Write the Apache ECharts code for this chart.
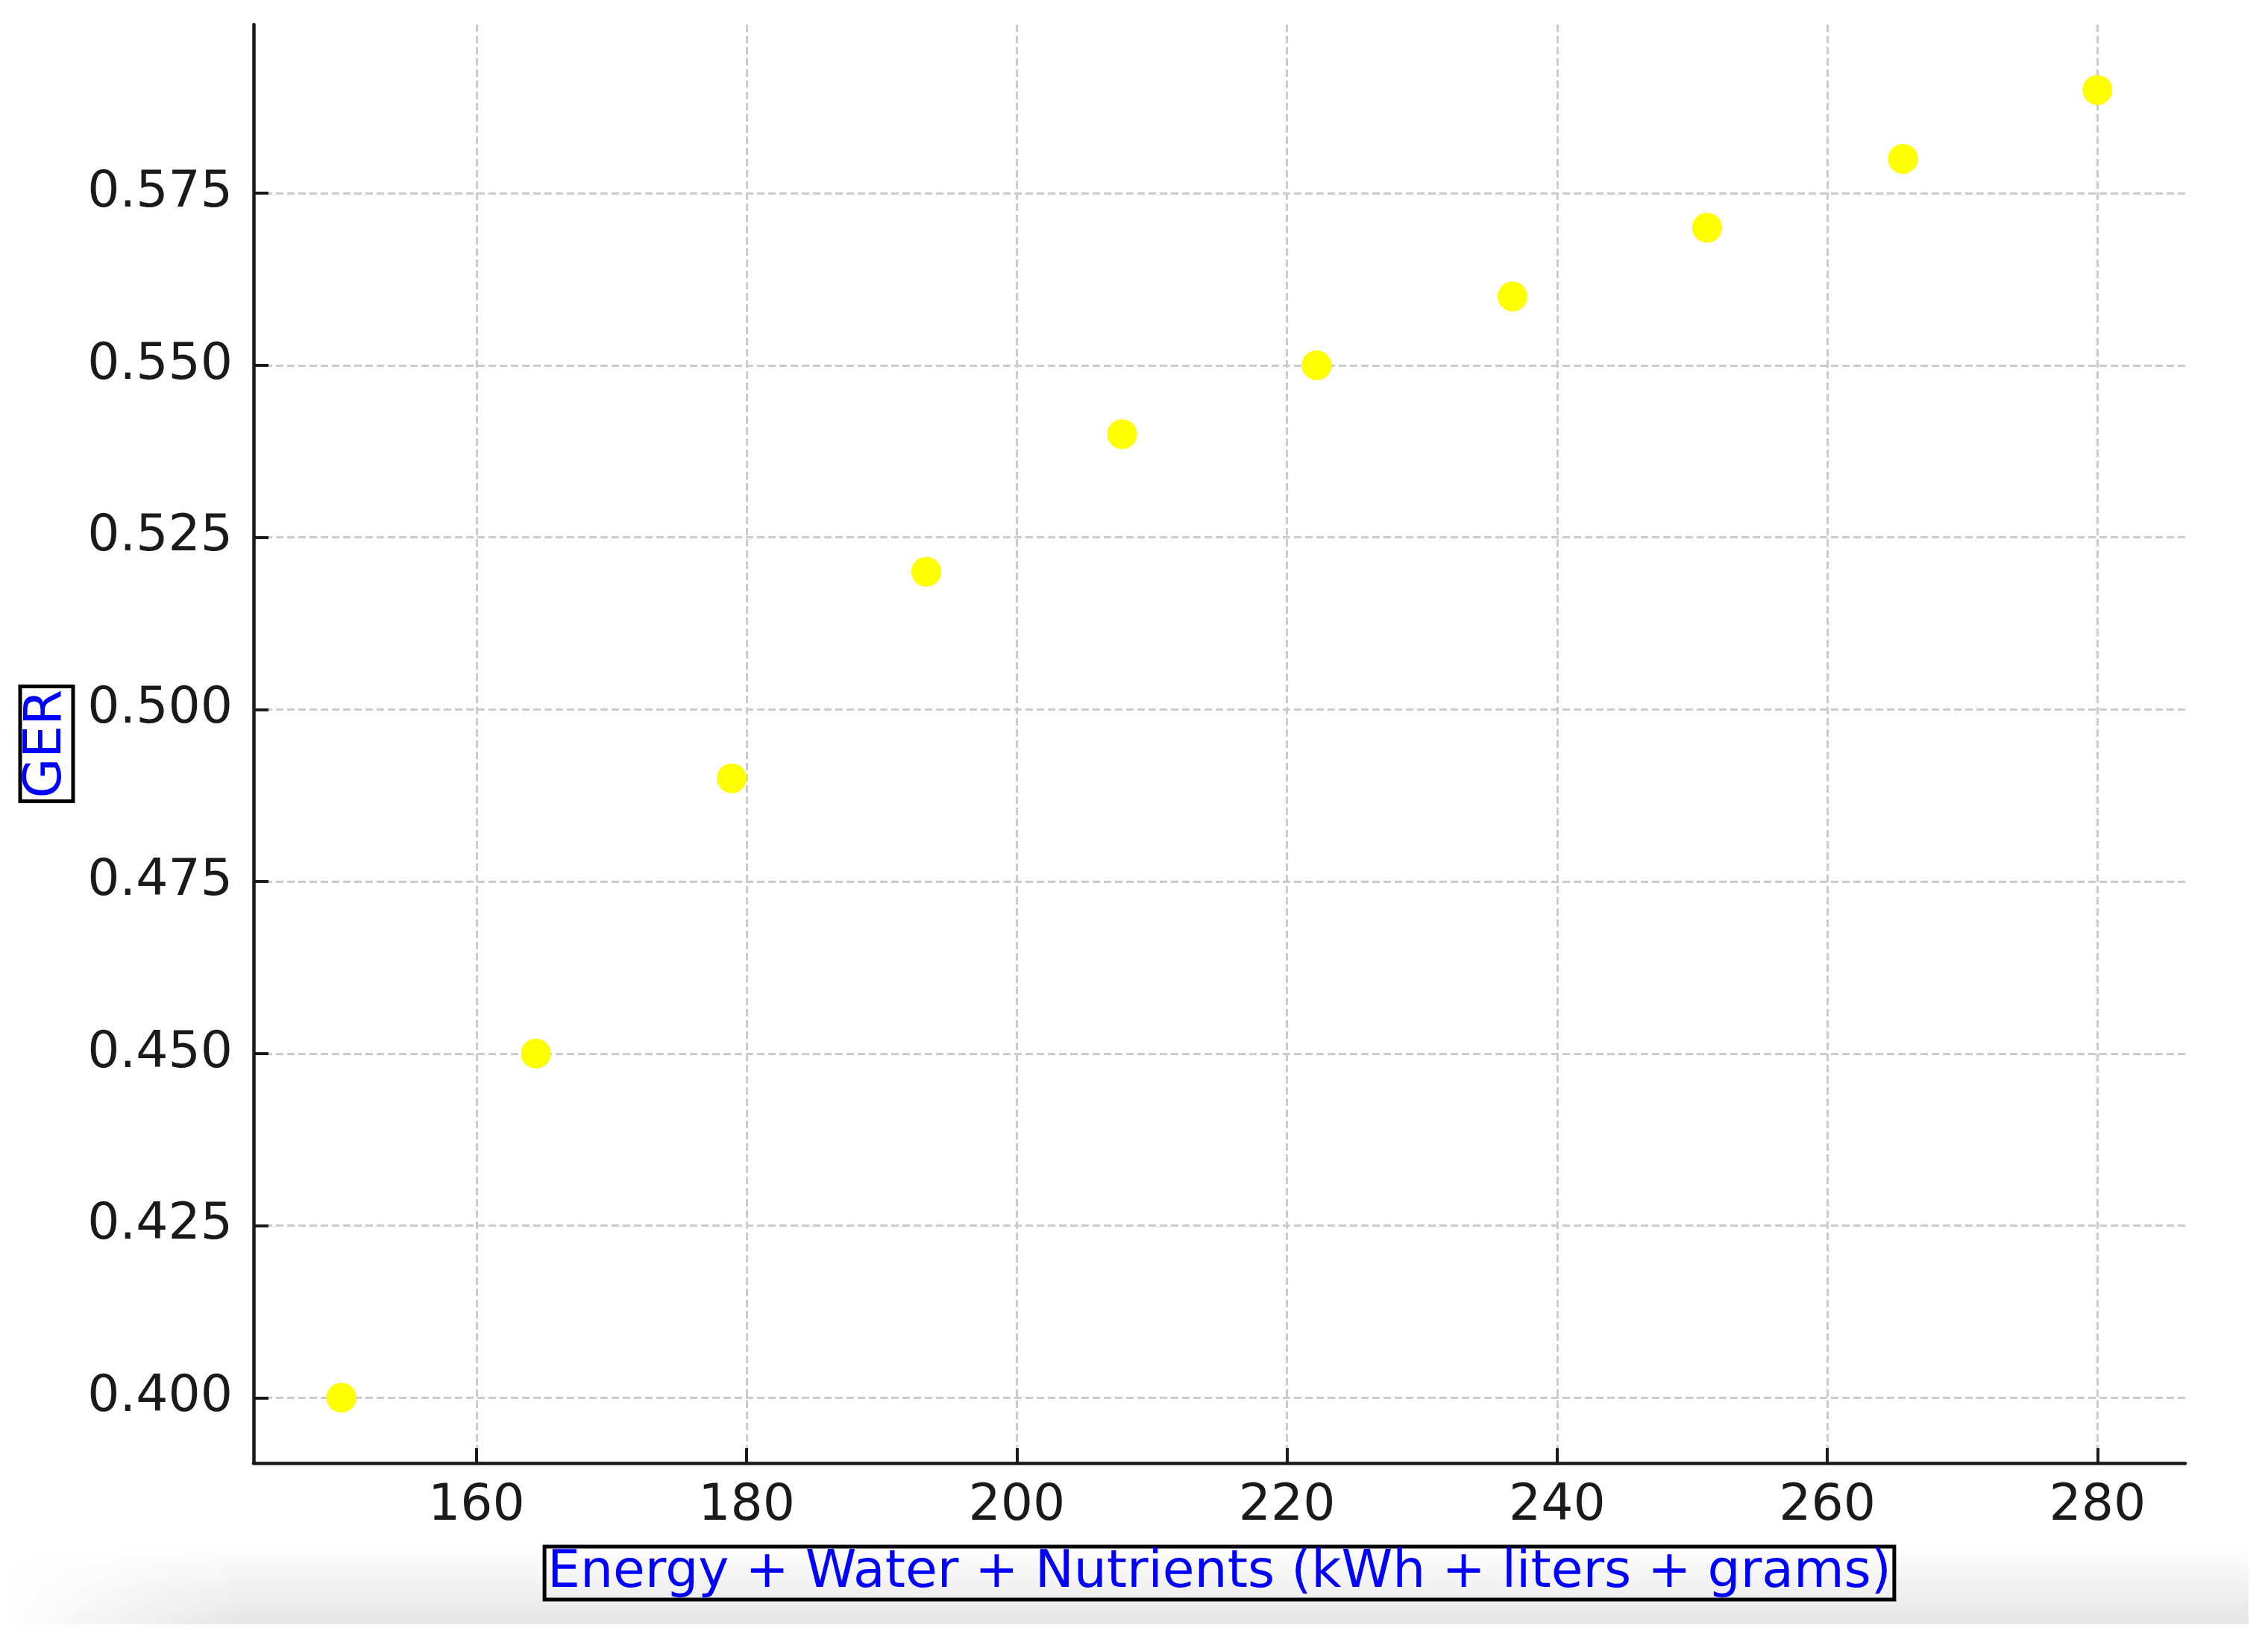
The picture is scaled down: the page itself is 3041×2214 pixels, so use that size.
<!DOCTYPE html>
<html>
<head>
<meta charset="utf-8">
<title>GER</title>
<script src="https://cdn.jsdelivr.net/npm/echarts@6/dist/echarts.min.js"></script>
<style>
    html, body { margin: 0; padding: 0; background: #fff; }
    #myChart { width: 3041px; height: 2214px; }
</style>
</head>
<body>
<div id="myChart"></div>
<script>
//数据
var inputTotal = [150, 164.4, 178.9, 193.3, 207.8, 222.2, 236.7, 251.1, 265.6, 280];
var gerValues = [0.40, 0.45, 0.49, 0.52, 0.54, 0.55, 0.56, 0.57, 0.58, 0.59];
var xTicks = [160, 180, 200, 220, 240, 260, 280];
var yTicks = [0.400, 0.425, 0.450, 0.475, 0.500, 0.525, 0.550, 0.575];

var FONT = 'DejaVu Sans';

function buildPoints() {
    var pts = [];
    for (var i = 0; i < inputTotal.length; i++) {
        pts.push([inputTotal[i], gerValues[i]]);
    }
    return pts;
}

//网格线
var gridLine = {
    show: true,
    lineStyle: {
        color: '#cccccc',
        width: 3,
        type: [10, 5]
    }
};

//带框的轴标题
function boxedName(gapPad) {
    return {
        color: '#0000ff',
        fontFamily: FONT,
        fontSize: 69.5,
        borderColor: '#000',
        borderWidth: 5,
        padding: gapPad
    };
}

var myChart = echarts.init(document.getElementById('myChart'));
var option = {
    backgroundColor: '#ffffff',
    animation: false,
    grid: {
        left: 340,
        right: 111,
        top: 33,
        bottom: 252
    },
    graphic: [{
        type: 'rect',
        z: -10,
        shape: { x: 10, y: 2073, width: 3005, height: 105 },
        style: {
            fill: new echarts.graphic.LinearGradient(0, 0, 0, 1, [
                { offset: 0, color: 'rgba(230,230,230,0)' },
                { offset: 1, color: '#e6e6e6' }
            ])
        }
    }, {
        type: 'rect',
        z: -9,
        shape: { x: 0, y: 2060, width: 320, height: 130 },
        style: {
            fill: new echarts.graphic.LinearGradient(0, 0, 1, 0, [
                { offset: 0, color: '#ffffff' },
                { offset: 1, color: 'rgba(255,255,255,0)' }
            ])
        }
    }],
    xAxis: {
        type: 'value',
        min: 143.5,
        max: 286.5,
        name: 'Energy + Water + Nutrients (kWh + liters + grams)',
        nameLocation: 'middle',
        nameGap: 112,
        nameTextStyle: boxedName([1, 4, 0, 4]),
        axisLine: { lineStyle: { color: '#1a1a1a', width: 4.5 } },
        axisTick: {
            inside: true,
            length: 20,
            customValues: xTicks,
            lineStyle: { color: '#1a1a1a', width: 4 }
        },
        axisLabel: {
            customValues: xTicks,
            margin: 24,
            color: '#1a1a1a',
            fontFamily: FONT,
            fontSize: 68
        },
        splitLine: gridLine
    },
    yAxis: {
        type: 'value',
        min: 0.3905,
        max: 0.5995,
        name: 'GER',
        nameLocation: 'middle',
        nameRotate: 90,
        nameGap: 242,
        nameTextStyle: boxedName([1, 4, 0, 4]),
        axisLine: { lineStyle: { color: '#1a1a1a', width: 4.5 } },
        axisTick: {
            inside: true,
            length: 20,
            customValues: yTicks,
            lineStyle: { color: '#1a1a1a', width: 4 }
        },
        axisLabel: {
            customValues: yTicks,
            margin: 28,
            color: '#1a1a1a',
            fontFamily: FONT,
            fontSize: 68,
            formatter: function (value) {
                return value.toFixed(3);
            }
        },
        splitLine: gridLine
    },
    series: [{
        type: 'scatter',
        symbol: 'circle',
        symbolSize: 40,
        itemStyle: { color: '#ffff00', opacity: 1 },
        data: buildPoints()
    }]
};
myChart.setOption(option);
</script>
</body>
</html>
